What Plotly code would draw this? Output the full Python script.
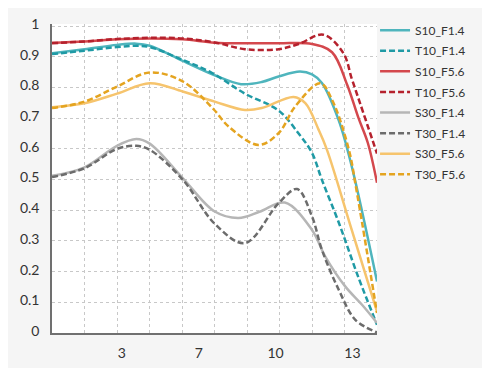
import plotly.graph_objects as go

# field position (mm) and MTF values
s10_f14_x = [0.3, 1.71, 3.12, 3.96, 4.54, 5.97, 7.36, 8.5, 9.4, 10.13, 11.06, 11.58, 12.01, 12.74, 13.31, 14.4]
s10_f14_y = [0.912, 0.925, 0.939, 0.943, 0.936, 0.887, 0.84, 0.811, 0.818, 0.836, 0.852, 0.843, 0.815, 0.693, 0.541, 0.168]

t10_f14_x = [0.3, 1.71, 3.12, 3.96, 4.54, 5.97, 7.23, 8.67, 10.13, 11.0, 11.58, 12.01, 12.74, 13.6, 14.4]
t10_f14_y = [0.909, 0.92, 0.932, 0.936, 0.932, 0.89, 0.848, 0.78, 0.725, 0.65, 0.587, 0.499, 0.36, 0.18, 0.027]

s10_f56_x = [0.3, 1.71, 3.12, 4.54, 5.97, 7.36, 8.67, 10.13, 11.58, 12.45, 13.1, 13.6, 14.0, 14.4]
s10_f56_y = [0.946, 0.95, 0.957, 0.96, 0.957, 0.946, 0.944, 0.944, 0.942, 0.915, 0.81, 0.7, 0.62, 0.49]

t10_f56_x = [0.3, 1.71, 3.12, 4.54, 5.97, 7.36, 8.67, 10.13, 11.0, 12.07, 12.94, 13.3, 13.66, 14.4]
t10_f56_y = [0.944, 0.95, 0.958, 0.962, 0.96, 0.947, 0.925, 0.925, 0.942, 0.972, 0.912, 0.83, 0.75, 0.585]

s30_f14_x = [0.3, 1.71, 3.12, 3.96, 4.54, 5.97, 7.36, 8.39, 9.3, 10.4, 11.58, 12.15, 13.02, 13.75, 14.4]
s30_f14_y = [0.512, 0.54, 0.61, 0.632, 0.617, 0.505, 0.396, 0.375, 0.395, 0.425, 0.336, 0.25, 0.152, 0.092, 0.033]

t30_f14_x = [0.3, 1.71, 3.12, 3.96, 4.54, 5.97, 7.36, 8.67, 10.13, 10.93, 11.58, 12.01, 12.74, 13.46, 14.4]
t30_f14_y = [0.508, 0.537, 0.6, 0.61, 0.597, 0.5, 0.356, 0.293, 0.423, 0.469, 0.38, 0.271, 0.141, 0.043, 0.002]

s30_f56_x = [0.3, 1.71, 3.12, 4.54, 5.97, 7.36, 8.67, 9.4, 10.78, 11.29, 11.87, 12.23, 13.3, 14.4]
s30_f56_y = [0.736, 0.749, 0.78, 0.814, 0.787, 0.754, 0.727, 0.733, 0.769, 0.749, 0.662, 0.597, 0.337, 0.07]

t30_f56_x = [0.3, 1.71, 3.12, 4.54, 5.97, 7.3, 7.96, 9.26, 10.13, 10.85, 11.94, 12.45, 13.17, 13.5, 14.4]
t30_f56_y = [0.733, 0.754, 0.803, 0.849, 0.82, 0.73, 0.673, 0.613, 0.651, 0.738, 0.814, 0.76, 0.6, 0.47, 0.065]

x_tick_vals = [10 / 3, 20 / 3, 10, 40 / 3]
x_tick_text = ["3", "7", "10", "13"]
y_tick_vals = [i / 10 for i in range(11)]
y_tick_text = ["0", "0.1", "0.2", "0.3", "0.4", "0.5", "0.6", "0.7", "0.8", "0.9", "1"]

series = [
    ("S10_F1.4", s10_f14_x, s10_f14_y, "#4fb5bd", "solid"),
    ("T10_F1.4", t10_f14_x, t10_f14_y, "#1f9aa5", "6px,3px"),
    ("S10_F5.6", s10_f56_x, s10_f56_y, "#d4484d", "solid"),
    ("T10_F5.6", t10_f56_x, t10_f56_y, "#b5212d", "6px,3px"),
    ("S30_F1.4", s30_f14_x, s30_f14_y, "#b6b6b6", "solid"),
    ("T30_F1.4", t30_f14_x, t30_f14_y, "#6c6c6c", "6px,3px"),
    ("S30_F5.6", s30_f56_x, s30_f56_y, "#f6c46d", "solid"),
    ("T30_F5.6", t30_f56_x, t30_f56_y, "#e4a420", "6px,3px"),
]

fig = go.Figure()
for i, (name, xs, ys, color, dash) in enumerate(series):
    fig.add_trace(go.Scatter(
        x=xs, y=ys, name=name, mode="lines", legendgroup=f"g{i}",
        line=dict(color=color, width=2.5, dash=dash, shape="spline", smoothing=1.0),
        hoverinfo="skip",
    ))

# page body has an 8px default margin, so the figure is 8px smaller on each axis
fig.update_layout(
    width=482, height=360,
    margin=dict(l=44, r=113, t=16, b=35, autoexpand=False),
    paper_bgcolor="#f5f5f5",
    plot_bgcolor="#ffffff",
    font=dict(family="Lato, 'Open Sans', sans-serif", color="#333333", size=14),
    showlegend=True,
    legend=dict(
        x=0.994, xanchor="left", y=1.027, yanchor="top",
        bgcolor="rgba(0,0,0,0)", font=dict(size=12, color="#333333"),
        traceorder="grouped", tracegroupgap=1.6, itemwidth=30,
    ),
)
fig.update_xaxes(
    range=[0.3, 14.4], tickmode="array", tickvals=x_tick_vals, ticktext=x_tick_text,
    automargin=False,
    showgrid=False, zeroline=False, ticks="", showline=True, linecolor="#707070", linewidth=1.5,
    ticklabelstandoff=6,
    minor=dict(tick0=0.3, dtick=1.41, showgrid=True, gridcolor="#c8c8c8", griddash="3px,3px", gridwidth=1, ticks=""),
)
fig.update_yaxes(
    range=[0, 1.007], tickmode="array", tickvals=y_tick_vals, ticktext=y_tick_text,
    automargin=False,
    showgrid=True, gridcolor="#c8c8c8", griddash="3px,3px", gridwidth=1,
    zeroline=False, ticks="", showline=True, linecolor="#707070", linewidth=1.5,
    ticklabelstandoff=8, ticklabelshift=-2,
)

fig.write_html("out.html")
